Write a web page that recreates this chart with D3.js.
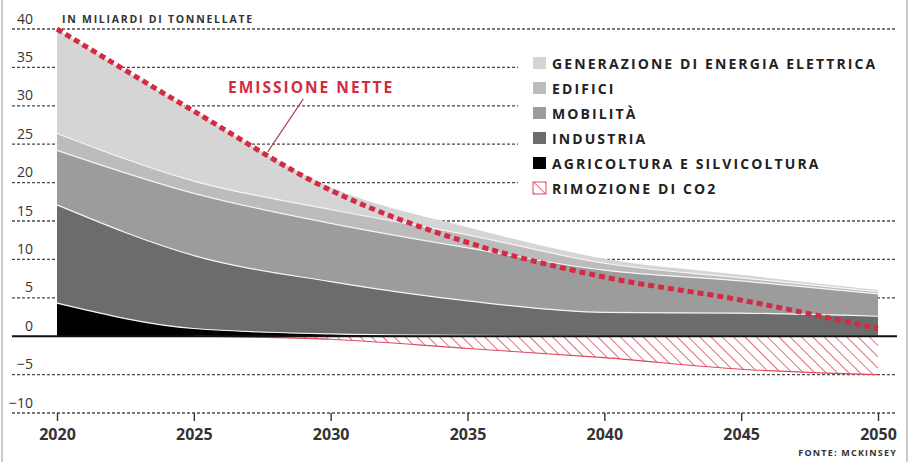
<!DOCTYPE html>
<html>
<head>
<meta charset="utf-8">
<script src="https://cdn.jsdelivr.net/npm/d3@7"></script>
<style>
  body { margin: 0; background: #fff; }
  svg { display: block; font-family: "Open Sans", "DejaVu Sans", sans-serif; }
</style>
</head>
<body>
<div id="chart"></div>
<script>
var years = [2020, 2025, 2030, 2035, 2040, 2045, 2050];
// miliardi di tonnellate, strati impilati dal basso
var agricoltura = [4.3, 1.0, 0.3, 0.1, 0.0, 0.0, 0.0];
var industria   = [12.8, 9.5, 6.8, 4.5, 3.1, 3.0, 2.6];
var mobilita    = [7.1, 8.1, 7.6, 6.9, 5.5, 4.2, 2.9];
var edifici     = [2.2, 1.6, 1.8, 1.7, 0.9, 0.4, 0.3];
var generazione = [13.6, 9.1, 2.9, 1.0, 0.6, 0.4, 0.2];
var rimozione   = [0, 0, -0.4, -1.6, -2.8, -4.3, -5.0];
var emissioniNette = [40, 29.3, 19.0, 12.2, 7.7, 4.7, 1.0];
var yTicks = [-10, -5, 0, 5, 10, 15, 20, 25, 30, 35, 40];

var keys = ["agricoltura", "industria", "mobilita", "edifici", "generazione"];
var legendLabels = ["GENERAZIONE DI ENERGIA ELETTRICA", "EDIFICI", "MOBILITÀ", "INDUSTRIA", "AGRICOLTURA E SILVICOLTURA", "RIMOZIONE DI CO2"];
var colours = {
  generazione: "#d5d5d5",
  edifici: "#bcbcbc",
  mobilita: "#9c9c9c",
  industria: "#6c6c6c",
  agricoltura: "#000000"
};
var red = "#d42a42";
var hatchRed = "#e0485e";

var width = 913, height = 462;
var svg = d3.select("#chart").append("svg").attr("width", width).attr("height", height);

var defs = svg.append("defs");
var hatch = defs.append("pattern").attr("id", "hatch").attr("patternUnits", "userSpaceOnUse")
  .attr("width", 8).attr("height", 8).attr("patternTransform", "rotate(-45)");
hatch.append("rect").attr("width", 8).attr("height", 8).attr("fill", "#fff");
hatch.append("line").attr("x1", 0).attr("y1", 0).attr("x2", 0).attr("y2", 8)
  .attr("stroke", hatchRed).attr("stroke-width", 1.6);

var x = d3.scaleLinear().domain([2020, 2050]).range([57, 878]);
var y = d3.scaleLinear().domain([-10, 40]).range([413, 29]);

// cornice
svg.append("rect").attr("x", 2).attr("y", -2).attr("width", 905).attr("height", 467)
  .attr("fill", "none").attr("stroke", "#a8a8a8").attr("stroke-width", 1.2);

// griglia
svg.append("g").selectAll("line").data(yTicks.filter(function(d) { return d !== 0; })).enter().append("line")
  .attr("x1", 12)
  .attr("x2", function(d) { return (d >= 20 && d <= 35) ? 518 : 897; })
  .attr("y1", function(d) { return y(d); })
  .attr("y2", function(d) { return y(d); })
  .attr("stroke", "#4a4a4a").attr("stroke-width", 1.3).attr("stroke-dasharray", "3,2");

// aree impilate
var table = years.map(function(yr, i) {
  return {
    year: yr,
    agricoltura: agricoltura[i],
    industria: industria[i],
    mobilita: mobilita[i],
    edifici: edifici[i],
    generazione: generazione[i]
  };
});
var series = d3.stack().keys(keys)(table);
var curve = d3.curveMonotoneX;
var area = d3.area().curve(curve)
  .x(function(d) { return x(d.data.year); })
  .y0(function(d) { return y(d[0]); })
  .y1(function(d) { return y(d[1]); });
var topLine = d3.line().curve(curve)
  .x(function(d) { return x(d.data.year); })
  .y(function(d) { return y(d[1]); });

svg.append("g").selectAll("path").data(series).enter().append("path")
  .attr("d", area).attr("fill", function(d) { return colours[d.key]; });
svg.append("g").selectAll("path").data(series.filter(function(s) { return s.key !== "generazione"; })).enter().append("path")
  .attr("d", topLine).attr("fill", "none").attr("stroke", "#f4f4f4").attr("stroke-width", 1.2);

// rimozione di CO2
var remData = years.map(function(yr, i) { return { year: yr, v: rimozione[i] }; });
svg.append("path").datum(remData)
  .attr("d", d3.area().curve(curve)
    .x(function(d) { return x(d.year); })
    .y0(y(0))
    .y1(function(d) { return y(d.v); }))
  .attr("fill", "url(#hatch)");
svg.append("path").datum(remData.slice(1))
  .attr("d", d3.line().curve(curve).x(function(d) { return x(d.year); }).y(function(d) { return y(d.v); }))
  .attr("fill", "none").attr("stroke", hatchRed).attr("stroke-width", 1.2);

// linea dello zero
svg.append("line").attr("x1", 12).attr("x2", 897).attr("y1", y(0)).attr("y2", y(0))
  .attr("stroke", "#111").attr("stroke-width", 2);

// emissioni nette
var netData = years.map(function(yr, i) { return { year: yr, v: emissioniNette[i] }; });
svg.append("path").datum(netData)
  .attr("d", d3.line().curve(curve).x(function(d) { return x(d.year); }).y(function(d) { return y(d.v); }))
  .attr("fill", "none").attr("stroke", red).attr("stroke-width", 5).attr("stroke-dasharray", "6,4");

// etichetta
svg.append("line")
  .attr("x1", x(2029.0)).attr("y1", y(30.9))
  .attr("x2", x(2027.7)).attr("y2", y(24.0))
  .attr("stroke", "#b3364e").attr("stroke-width", 1.1);
svg.append("text").attr("x", x(2026.25)).attr("y", 93)
  .attr("fill", red).attr("font-size", 15.5).attr("font-weight", 700).attr("letter-spacing", 2)
  .text("EMISSIONE NETTE");

// assi
var yAxis = svg.append("g").attr("transform", "translate(33,0)")
  .call(d3.axisLeft(y).tickValues(yTicks).tickSize(0).tickPadding(0));
yAxis.select(".domain").remove();
yAxis.selectAll("text").attr("dy", -6).attr("x", 0)
  .attr("font-family", "'Open Sans', sans-serif").attr("font-size", 14).attr("fill", "#333");

var xAxis = svg.append("g").attr("transform", "translate(0," + y(-10) + ")")
  .call(d3.axisBottom(x).tickValues(years).tickFormat(d3.format("d")).tickSize(8));
xAxis.select(".domain").remove();
xAxis.selectAll("line").attr("stroke", "#333").attr("stroke-width", 1.4);
xAxis.selectAll("text").attr("y", 27).attr("dy", 0)
  .attr("font-family", "'Open Sans', sans-serif").attr("font-size", 16).attr("font-weight", 700).attr("fill", "#333");

svg.append("text").attr("x", 62).attr("y", 23)
  .attr("font-size", 10.5).attr("font-weight", 700).attr("letter-spacing", 1.75).attr("fill", "#333")
  .text("IN MILIARDI DI TONNELLATE");

svg.append("text").attr("x", 897).attr("y", 456).attr("text-anchor", "end")
  .attr("font-size", 9).attr("font-weight", 700).attr("letter-spacing", 1.2).attr("fill", "#333")
  .text("FONTE: MCKINSEY");

// legenda
var legendKeys = ["generazione", "edifici", "mobilita", "industria", "agricoltura", "rimozione"];
var legend = svg.append("g").selectAll("g").data(legendKeys).enter().append("g")
  .attr("transform", function(d, i) { return "translate(533," + (57 + i * 25) + ")"; });
legend.append("rect").attr("width", 13).attr("height", 12)
  .attr("fill", function(d) { return d === "rimozione" ? "url(#hatch)" : colours[d]; })
  .attr("stroke", function(d) { return d === "rimozione" ? hatchRed : "none"; });
legend.append("text").attr("x", 19).attr("y", 12)
  .attr("font-size", 14).attr("font-weight", 700).attr("letter-spacing", 2.1).attr("fill", "#222")
  .text(function(d, i) { return legendLabels[i]; });
</script>
</body>
</html>
